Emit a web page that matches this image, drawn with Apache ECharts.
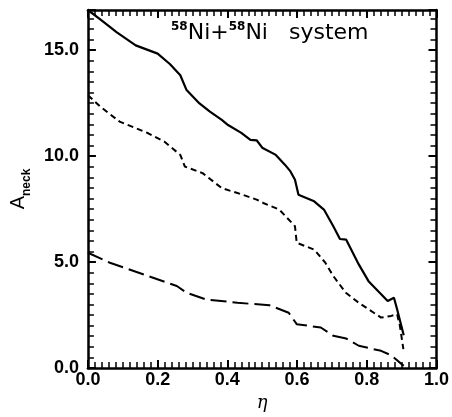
<!DOCTYPE html>
<html lang="en">
<head>
  <meta charset="UTF-8" />
  <title>Aneck vs eta</title>
  <script src="https://cdn.jsdelivr.net/npm/echarts@6/dist/echarts.min.js"></script>
  <style>
    html, body { margin: 0; padding: 0; background: #fff; }
    #chart { width: 452px; height: 417px; }
  </style>
</head>
<body>
  <div id="chart"></div>
  <script>
    // solid curve
    var solidEta = [0.0, 0.04, 0.082, 0.137, 0.2, 0.235, 0.265, 0.283, 0.32, 0.35, 0.384, 0.402, 0.44, 0.466, 0.484, 0.5, 0.539, 0.565, 0.581, 0.594, 0.604, 0.649, 0.677, 0.704, 0.723, 0.741, 0.777, 0.805, 0.86, 0.878, 0.887, 0.906];
    var solidA   = [16.9, 16.4, 15.86, 15.23, 14.84, 14.35, 13.82, 13.12, 12.49, 12.1, 11.71, 11.47, 11.1, 10.77, 10.75, 10.4, 10.06, 9.6, 9.28, 8.89, 8.18, 7.87, 7.48, 6.69, 6.09, 6.06, 4.89, 4.1, 3.16, 3.32, 2.77, 1.55];
    // short-dashed curve
    var shortEta = [0.0, 0.036, 0.091, 0.173, 0.219, 0.265, 0.278, 0.329, 0.384, 0.429, 0.484, 0.503, 0.549, 0.585, 0.594, 0.599, 0.649, 0.681, 0.704, 0.74, 0.777, 0.841, 0.87, 0.887, 0.895, 0.905];
    var shortA   = [12.88, 12.33, 11.63, 11.08, 10.69, 10.06, 9.51, 9.2, 8.49, 8.26, 7.95, 7.79, 7.48, 6.85, 6.69, 5.91, 5.59, 4.97, 4.34, 3.55, 3.08, 2.38, 2.46, 2.54, 1.99, 0.89];
    // long-dashed curve
    var longEta = [0.0, 0.063, 0.173, 0.255, 0.283, 0.338, 0.429, 0.521, 0.576, 0.599, 0.668, 0.704, 0.741, 0.777, 0.841, 0.87, 0.906];
    var longA   = [5.44, 4.97, 4.34, 3.87, 3.55, 3.24, 3.08, 2.96, 2.61, 2.07, 1.91, 1.52, 1.39, 1.05, 0.81, 0.6, 0.1];

    var xTicks = [0, 0.2, 0.4, 0.6, 0.8, 1.0];
    var yTicks = [0, 5, 10, 15];

    function pairs(xs, ys) {
      return xs.map(function (x, i) { return [x, ys[i]]; });
    }

    var axisFont = { fontFamily: 'Liberation Sans', fontWeight: 'bold', fontSize: 18, color: '#000' };
    var lineStyle = { color: '#000', width: 2.5 };

    function baseAxis(extra) {
      var a = {
        type: 'value',
        axisLine: { show: true, onZero: false, lineStyle: lineStyle },
        axisTick: { show: true, inside: true, length: 8, lineStyle: { color: '#000', width: 2 } },
        minorTick: { show: true, splitNumber: 10, length: 6, lineStyle: { color: '#000', width: 1.5 } },
        splitLine: { show: false },
        minorSplitLine: { show: false }
      };
      for (var k in extra) a[k] = extra[k];
      return a;
    }

    var chart = echarts.init(document.getElementById('chart'));
    chart.setOption({
      animation: false,
      backgroundColor: '#fff',
      title: {
        left: 166,
        top: 16,
        text: '{s|58}{n|Ni+}{s|58}{n|Ni   system}',
        textStyle: {
          fontWeight: 'normal',
          rich: {
            s: { fontFamily: 'DejaVu Sans', fontWeight: 'bold', fontSize: 12, verticalAlign: 'top', lineHeight: 24, color: '#000' },
            n: { fontFamily: 'DejaVu Sans', fontWeight: 'normal', fontSize: 22, color: '#000', lineHeight: 24 }
          }
        }
      },
      grid: { left: 77, right: 11, top: 10, bottom: 48 },
      xAxis: [
        baseAxis({
          min: 0, max: 1, interval: 0.2, position: 'bottom',
          name: 'η', nameLocation: 'middle', nameGap: 26,
          nameTextStyle: { fontFamily: 'DejaVu Serif', fontStyle: 'italic', fontSize: 18, color: '#000' },
          axisLabel: {
            margin: 3,
            formatter: function (v) { return xTicks.indexOf(+v.toFixed(2)) >= 0 ? v.toFixed(1) : ''; },
            textStyle: axisFont
          }
        }),
        baseAxis({ min: 0, max: 1, interval: 0.2, position: 'top', axisLabel: { show: false } })
      ],
      yAxis: [
        baseAxis({
          min: 0, max: 16.9, interval: 5, position: 'left',
          name: '{a|A}{b|neck}', nameLocation: 'middle', nameGap: 52, nameRotate: 90,
          nameTextStyle: {
            rich: {
              a: { fontFamily: 'Liberation Sans', fontSize: 20, color: '#000', lineHeight: 22, verticalAlign: 'top' },
              b: { fontFamily: 'Liberation Sans', fontWeight: 'bold', fontSize: 12, color: '#000', lineHeight: 12, verticalAlign: 'top', padding: [13, 0, 0, 0] }
            }
          },
          axisLabel: {
            margin: 9,
            formatter: function (v) { return yTicks.indexOf(v) >= 0 ? v.toFixed(1) : ''; },
            textStyle: axisFont
          }
        }),
        baseAxis({ min: 0, max: 16.9, interval: 5, position: 'right', axisLabel: { show: false } })
      ],
      series: [
        {
          type: 'line', data: pairs(solidEta, solidA), showSymbol: false, symbol: 'none',
          lineStyle: { color: '#000', width: 2.2, type: 'solid' }
        },
        {
          type: 'line', data: pairs(shortEta, shortA), showSymbol: false, symbol: 'none',
          lineStyle: { color: '#000', width: 2, type: [6, 4] }
        },
        {
          type: 'line', data: pairs(longEta, longA), showSymbol: false, symbol: 'none',
          lineStyle: { color: '#000', width: 2, type: [16, 6] }
        }
      ]
    });
  </script>
</body>
</html>
